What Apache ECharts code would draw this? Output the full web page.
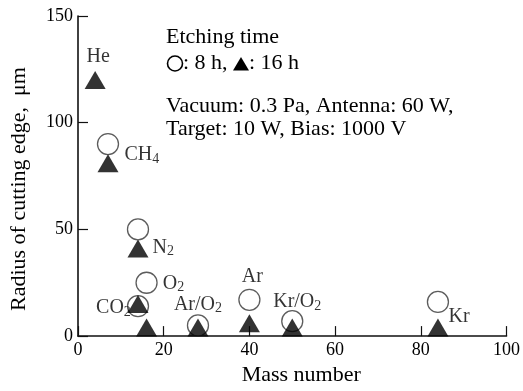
<!DOCTYPE html>
<html>
<head>
<meta charset="utf-8">
<script src="https://cdn.jsdelivr.net/npm/echarts@6/dist/echarts.min.js"></script>
<style>html,body{margin:0;padding:0;background:#fff}#c{width:523px;height:391px}</style>
</head>
<body>
<div id="c"></div>
<script>
// ---- data ----
var gases   = ['He', 'CH4', 'N2', 'O2', 'CO2', 'Ar/O2', 'Ar', 'Kr/O2', 'Kr'];
var massPos = [4, 7, 14, 16, 14, 28, 40, 50, 84];
var r8h     = [null, 90, 50, 25, 14, 5, 17, 7, 16];
var r16h    = [120, 81, 41, 4, 15, 4, 6, 4, 4];
var xTicks  = [0, 20, 40, 60, 80, 100];
var yTicks  = [0, 50, 100, 150];

// ---- label placement (style, not data) ----
var labelOn = {
  'He':    {s:'t', position:'top',   distance:3,  offset:[3,0]},
  'CH4':   {s:'t', position:'right', distance:6,  offset:[0,-8]},
  'N2':    {s:'t', position:'right', distance:4,  offset:[0,-1]},
  'O2':    {s:'c', position:'right', distance:5,  offset:[0,1]},
  'CO2':   {s:'c', position:'left',  distance:-4, offset:[0,2]},
  'Ar/O2': {s:'c', position:'top',   distance:-1, offset:[0,0]},
  'Ar':    {s:'c', position:'top',   distance:1,  offset:[3,0]},
  'Kr/O2': {s:'c', position:'top',   distance:-3, offset:[5,0]},
  'Kr':    {s:'t', position:'right', distance:0,  offset:[0,-11]}
};
var FONT = '"Liberation Serif","Times New Roman",serif';
function fmtGas(g){
  return g.replace(/(\d)/g, '{s|$1}').replace(/(^|\})([^{]+)/g, function(m,a,b){return a+'{n|'+b+'}';});
}
var rich = {
  n:{fontFamily:FONT, fontSize:20, color:'#000', lineHeight:22, verticalAlign:'middle'},
  s:{fontFamily:FONT, fontSize:14, color:'#000', lineHeight:22, verticalAlign:'bottom', padding:[8,0,0,0]}
};
function buildData(vals, key){
  var out = [];
  for (var i=0;i<gases.length;i++){
    if (vals[i]==null) continue;
    var item = {value:[massPos[i], vals[i]]};
    var L = labelOn[gases[i]];
    if (L && L.s===key){
      item.label = {show:true, color:'#000', position:L.position, distance:L.distance, offset:L.offset,
        formatter: fmtGas(gases[i]), rich:rich};
    }
    out.push(item);
  }
  return out;
}

var chart = echarts.init(document.getElementById('c'), null, {renderer:'canvas'});
var axisCommon = {
  axisLine:{show:true, lineStyle:{color:'#111', width:1.6}},
  axisTick:{show:true, inside:true, length:10, lineStyle:{color:'#111', width:1.2}},
  splitLine:{show:false},
  axisLabel:{fontFamily:FONT, fontSize:18, color:'#000', margin:5}
};
var LEG = '22px ' + FONT;
chart.setOption({
  animation:false,
  backgroundColor:'#fff',
  grid:{left:77, right:14, top:16, bottom:51, containLabel:false},
  xAxis: Object.assign({}, axisCommon, {
    type:'value', min:xTicks[0], max:xTicks[xTicks.length-1], interval:20,
    name:'Mass number', nameLocation:'middle', nameGap:27,
    nameTextStyle:{fontFamily:FONT, fontSize:22, color:'#000', padding:[0,0,0,18]}
  }),
  yAxis: Object.assign({}, axisCommon, {
    type:'value', min:yTicks[0], max:yTicks[yTicks.length-1], interval:50,
    name:'Radius of cutting edge,  \u03bcm', nameLocation:'middle', nameGap:48,
    nameTextStyle:{fontFamily:FONT, fontSize:22, color:'#000', padding:[0,26,0,0]}
  }),
  graphic:[
    {type:'text', left:166, top:26, style:{text:'Etching time', font:LEG, fill:'#000'}},
    {type:'circle', shape:{cx:175, cy:63.5, r:7.5}, style:{fill:'none', stroke:'#000', lineWidth:1.6}},
    {type:'text', left:183, top:52, style:{text:': 8 h,', font:LEG, fill:'#000'}},
    {type:'polygon', shape:{points:[[233,70.5],[249,70.5],[241,57]]}, style:{fill:'#000'}},
    {type:'text', left:249, top:52, style:{text:': 16 h', font:LEG, fill:'#000'}},
    {type:'text', left:166, top:95, style:{text:'Vacuum: 0.3 Pa, Antenna: 60 W,', font:LEG, fill:'#000'}},
    {type:'text', left:166, top:118, style:{text:'Target: 10 W, Bias: 1000 V', font:LEG, fill:'#000'}}
  ],
  series:[
    {type:'scatter', name:'8 h', symbol:'circle', symbolSize:21,
     itemStyle:{color:'#fff', borderColor:'#333', borderWidth:1.3},
     data: buildData(r8h, 'c')},
    {type:'scatter', name:'16 h', symbol:'triangle', symbolSize:[21,18],
     itemStyle:{color:'#000'},
     data: buildData(r16h, 't')}
  ]
});
</script>
</body>
</html>
